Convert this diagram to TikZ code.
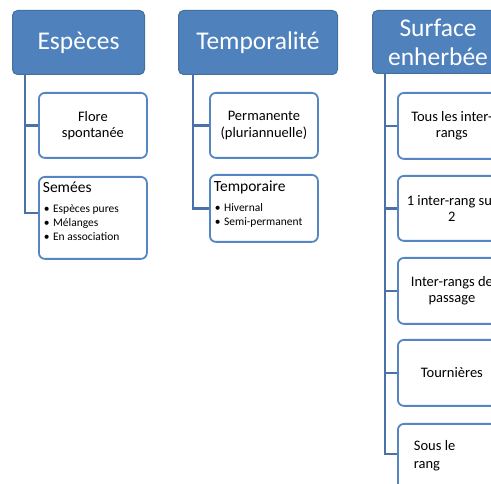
\documentclass[tikz,border=0pt]{standalone}
\usepackage{fontspec}
\setmainfont{Carlito}
\definecolor{hdrfill}{HTML}{4F81BD}
\definecolor{hdrborder}{HTML}{41719C}
\definecolor{boxborder}{HTML}{5585C2}
\definecolor{connblue}{HTML}{4A72A8}
\begin{document}
\begin{tikzpicture}[x=1pt,y=-1pt,
  hdr/.style={draw=hdrborder, line width=1pt, fill=hdrfill, rounded corners=5pt,
    text=white, inner sep=0pt, anchor=north west, align=center,
    font=\fontsize{25.5}{29}\selectfont},
  itembox/.style={draw=boxborder, line width=1.8pt, fill=white, rounded corners=6pt,
    inner sep=0pt, anchor=north west, font=\fontsize{14.5}{16.5}\selectfont},
  conn/.style={draw=connblue, line width=2.4pt}]
\useasboundingbox (0,0) rectangle (491,484);
\clip (0,0) rectangle (491,484);
\newcommand{\cbox}[3]{\parbox[c][#1pt][c]{#2pt}{\centering #3}}
\newcommand{\bul}[1]{\hspace*{5pt}\textbullet\hspace{3.5pt}#1\par}
% column 1
\node[hdr, minimum width=132pt, minimum height=64pt] (h1) at (12,10) {Espèces};
\node[itembox] (c11) at (38,92) {\cbox{65}{108}{Flore\\spontanée}};
\node[itembox] (c12) at (38,176) {\parbox[c][82pt][t]{108pt}{\vspace{5pt}\hspace*{4pt}{\fontsize{15.5}{17}\selectfont Semées}\par\vspace{6pt}%
  \fontsize{11.5}{14}\selectfont\bul{Espèces pures}\bul{Mélanges}\bul{En association}}};
% column 2
\node[hdr, minimum width=159pt, minimum height=64pt] (h2) at (178,10) {Temporalité};
\node[itembox] (c21) at (209,92) {\cbox{65}{108}{Permanente\\(pluriannuelle)}};
\node[itembox] (c22) at (209,174) {\parbox[c][67pt][t]{108pt}{\vspace{6pt}\hspace*{4pt}{\fontsize{15.5}{17}\selectfont Temporaire}\par\vspace{6pt}%
  \fontsize{11.5}{14}\selectfont\bul{Hivernal}\bul{Semi-permanent}}};
% column 3
\node[hdr, minimum width=131pt, minimum height=63pt] (h3) at (372,10) {Surface\\enherbée};
\node[itembox] (c31) at (397,92) {\cbox{66}{108}{Tous les inter-\\rangs}};
\node[itembox] (c32) at (397,175) {\cbox{65}{108}{1 inter-rang sur\\2}};
\node[itembox] (c33) at (397,257) {\cbox{66}{108}{Inter-rangs de\\passage}};
\node[itembox] (c34) at (397,339) {\cbox{66}{108}{Tournières}};
\node[itembox] (c35) at (397,423) {\parbox[c][66pt][t]{108pt}{\vspace{17pt}\hspace*{16pt}Sous le\par\vspace{1.5pt}\hspace*{16pt}rang}};
% connectors
\draw[conn] ([xshift=13pt]h1.south west) |- ([yshift=5pt]c12.west);
\draw[conn] ([xshift=13pt]h1.south west) |- (c11.west);
\draw[conn] ([xshift=15pt]h2.south west) |- (c22.west);
\draw[conn] ([xshift=15pt]h2.south west) |- (c21.west);
\draw[conn] ([xshift=13pt]h3.south west) |- ([yshift=3pt]c35.west);
\draw[conn] ([xshift=13pt]h3.south west) |- (c34.west);
\draw[conn] ([xshift=13pt]h3.south west) |- (c33.west);
\draw[conn] ([xshift=13pt]h3.south west) |- (c32.west);
\draw[conn] ([xshift=13pt]h3.south west) |- (c31.west);
\end{tikzpicture}
\end{document}
